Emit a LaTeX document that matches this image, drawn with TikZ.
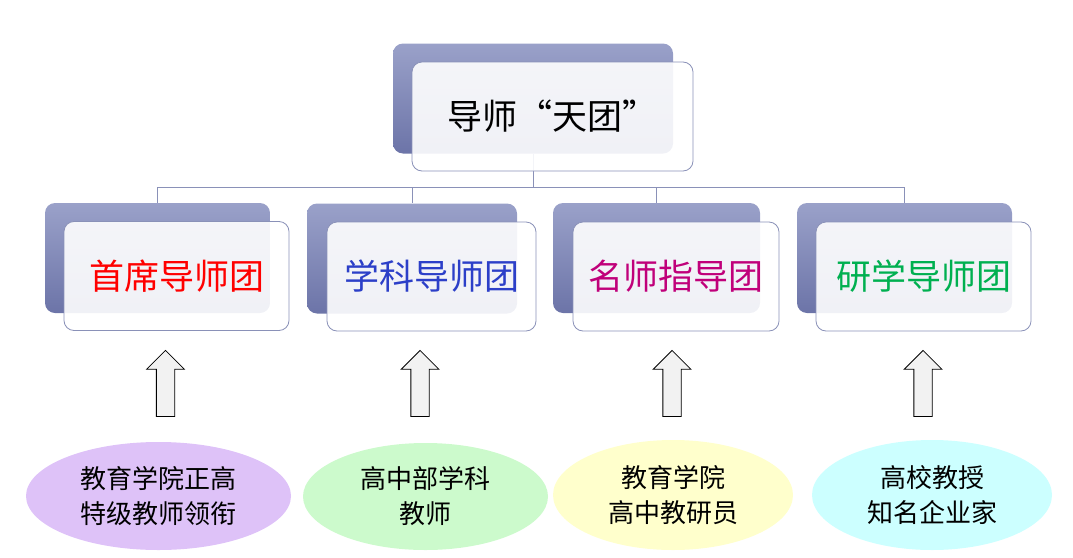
\documentclass[tikz,border=0pt]{standalone}
\usepackage{fontspec}
\setmainfont{Noto Sans CJK SC}
\usepackage{xcolor}
\usetikzlibrary{positioning,shapes.geometric,shapes.arrows,backgrounds}
\definecolor{backtop}{HTML}{9AA1C9}
\definecolor{backbot}{HTML}{6C74A8}
\definecolor{linkgray}{HTML}{8A91B8}
\definecolor{arrowgray}{HTML}{F2F2F2}
\definecolor{headred}{HTML}{FF0000}
\definecolor{headblue}{HTML}{2C3FC8}
\definecolor{headpink}{HTML}{C0007A}
\definecolor{headgreen}{HTML}{00B050}
\definecolor{srcpurple}{HTML}{DEC2F8}
\definecolor{srcgreen}{HTML}{CCFACC}
\definecolor{srcyellow}{HTML}{FFFFCC}
\definecolor{srccyan}{HTML}{CCFFFF}
\newcommand{\fwq}[1]{{\addfontfeature{CharacterWidth=Full}#1}}

\begin{document}
\begin{tikzpicture}[x=1pt,y=-1pt,line width=0.8pt]
			\tikzstyle{back}=[rounded corners=10pt,top color=backtop,bottom color=backbot,draw=none,minimum height=110pt]
			\tikzstyle{front}=[rounded corners=10pt,draw=linkgray,fill=white,fill opacity=0.9,text opacity=1,minimum height=109pt,font=\fontsize{35}{42}\selectfont]
			\tikzstyle{link}=[draw=linkgray]
			\tikzstyle{up}=[single arrow,draw=black,fill=arrowgray,rotate=90,minimum height=66pt,minimum width=37pt,inner xsep=0pt,inner ysep=8.75pt,single arrow head extend=9.75pt,single arrow head indent=0pt]
			\tikzstyle{src}=[ellipse,draw=none,align=center,inner sep=0pt,font=\fontsize{26}{35}\selectfont]
			\useasboundingbox (0,0) rectangle (1073,557);
			% top
			\node[back,minimum width=280pt]    (tb) at (533,98.5)   {};
			\node[front,minimum width=281pt]   (tf) at ([shift={(19.5,18)}]tb.center)   {导师\fwq{“}天团\fwq{”}};
			% teams
			\node[back,minimum width=225pt]    (b1) at (157.5,258)   {};
			\node[front,minimum width=225pt,text=headred]    (f1) at ([shift={(19,18)}]b1.center)   {首席导师团};
			\node[back,minimum width=210pt]    (b2) at (412,258.5)   {};
			\node[front,minimum width=209pt,text=headblue]   (f2) at ([shift={(19.5,18)}]b2.center)   {学科导师团};
			\node[back,minimum width=207pt]    (b3) at (656.5,258)   {};
			\node[front,minimum width=206pt,text=headpink]   (f3) at ([shift={(19.5,18.5)}]b3.center)   {名师指导团};
			\node[back,minimum width=215pt]    (b4) at (904.5,258)   {};
			\node[front,minimum width=215pt,text=headgreen]  (f4) at ([shift={(19,18.5)}]b4.center)   {研学导师团};
			% arrows
			\node[up]    (a1) at (165.5,388)   {};
			\node[up]    (a2) at (420,388)   {};
			\node[up]    (a3) at (672,388)   {};
			\node[up]    (a4) at (923,388)   {};
			% sources
			\node[src,fill=srcpurple,minimum width=265pt,minimum height=108pt]  (s1) at (158.5,496)   {教育学院正高\\特级教师领衔};
			\node[src,fill=srcgreen,minimum width=245pt,minimum height=107pt]   (s2) at (425.5,496.5)   {高中部学科\\教师};
			\node[src,fill=srcyellow,minimum width=240pt,minimum height=110pt]  (s3) at (673,495)   {教育学院\\高中教研员};
			\node[src,fill=srccyan,minimum width=240pt,minimum height=110pt]    (s4) at (932,495)   {高校教授\\知名企业家};
			\begin{scope}[on background layer]
			\coordinate (hub) at (533,187);
			\draw[link] (tb.south) -- (hub);
			\draw[link] (hub) -| (b1.north);
			\draw[link] (hub) -| (b2.north);
			\draw[link] (hub) -| (b3.north);
			\draw[link] (hub) -| (b4.north);
			\end{scope}
		\end{tikzpicture}
\end{document}
